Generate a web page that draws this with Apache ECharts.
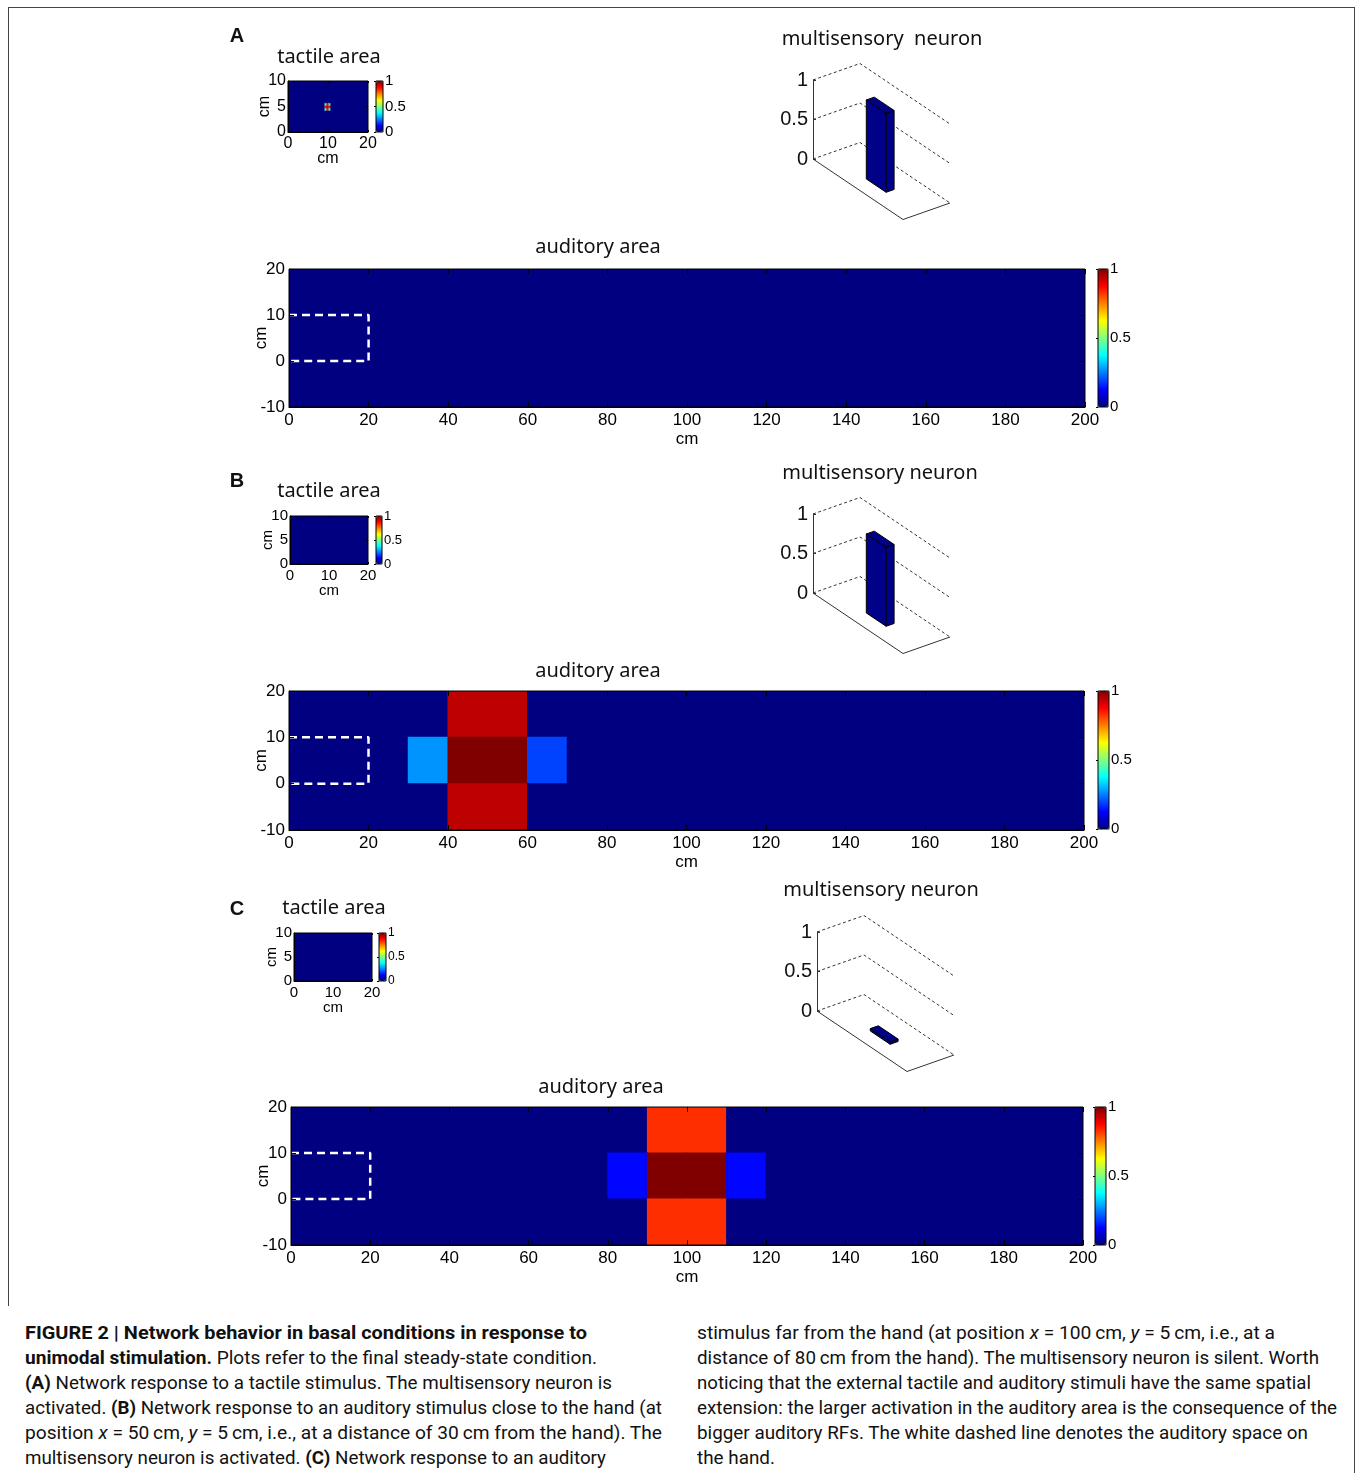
<!DOCTYPE html>
<html><head><meta charset="utf-8"><title>Figure 2</title>
<script src="https://cdn.jsdelivr.net/npm/echarts@6/dist/echarts.min.js"></script>
<style>
body{margin:0;background:#fff;width:1355px;height:1473px;overflow:hidden;}
#chart{position:absolute;left:0;top:0;width:1355px;height:1310px;}
#frame{position:absolute;left:8px;top:7px;width:1345px;height:1298px;border:1px solid #444;border-bottom:none;}
#frame2{position:absolute;left:1354px;top:1305px;height:170px;border-left:1px solid #444;}
.cap{position:absolute;font-family:'Liberation Sans Narrow','Roboto','Liberation Sans',sans-serif;font-size:18px;line-height:25px;color:#111;}
.cap div{white-space:nowrap;transform-origin:0 50%;width:max-content;}
</style></head>
<body>
<div id="frame"></div><div id="frame2"></div>
<div id="chart"></div>
<div class="cap" style="left:25px;top:1320px">
<div data-w="562"><b>FIGURE 2 | Network behavior in basal conditions in response to</b></div>
<div data-w="572"><b>unimodal stimulation.</b> Plots refer to the final steady-state condition.</div>
<div data-w="587"><b>(A)</b> Network response to a tactile stimulus. The multisensory neuron is</div>
<div data-w="637">activated. <b>(B)</b> Network response to an auditory stimulus close to the hand (at</div>
<div data-w="637">position <i>x</i> = 50&#8201;cm, <i>y</i> = 5&#8201;cm, i.e., at a distance of 30&#8201;cm from the hand). The</div>
<div data-w="581">multisensory neuron is activated. <b>(C)</b> Network response to an auditory</div>
</div>
<div class="cap" style="left:697px;top:1320px">
<div data-w="578">stimulus far from the hand (at position <i>x</i> = 100&#8201;cm, <i>y</i> = 5&#8201;cm, i.e., at a</div>
<div data-w="622">distance of 80&#8201;cm from the hand). The multisensory neuron is silent. Worth</div>
<div data-w="614">noticing that the external tactile and auditory stimuli have the same spatial</div>
<div data-w="640">extension: the larger activation in the auditory area is the consequence of the</div>
<div data-w="611">bigger auditory RFs. The white dashed line denotes the auditory space on</div>
<div data-w="78">the hand.</div>
</div>
<script>
// ================= DATA =================
const panelLetters = ['A', 'B', 'C'];
const tactileTitles = ['tactile area', 'tactile area', 'tactile area'];
const neuronTitles = ['multisensory  neuron', 'multisensory neuron', 'multisensory neuron'];
const auditoryTitles = ['auditory area', 'auditory area', 'auditory area'];
const unitLabel = 'cm';

// tactile area (0.5 cm grid); ticks
const tactileXTicks = [0, 10, 20];
const tactileYTicks = [0, 5, 10];
const tactileStep = 0.5;
// stimulated tactile cells [x, y, activation]; every other cell is 0
const tactileStimA = [
  [9.5, 5.5, 0.40], [10, 5.5, 0.86], [10.5, 5.5, 0.40],
  [9.5, 5.0, 0.86], [10, 5.0, 0.92], [10.5, 5.0, 0.86],
  [9.5, 4.5, 0.40], [10, 4.5, 0.86], [10.5, 4.5, 0.40]
];
const tactileStimB = [];
const tactileStimC = [];

// auditory area (10 cm cells); ticks
const auditoryXTicks = [0, 20, 40, 60, 80, 100, 120, 140, 160, 180, 200];
const auditoryYTicks = [-10, 0, 10, 20];
const auditoryStep = 10;
// rows from top: y in [10,20], [0,10], [-10,0]; columns: x in [0,10] ... [190,200]
const auditoryA = [
  [0,0,0,0,0,0,0,0,0,0,0,0,0,0,0,0,0,0,0,0],
  [0,0,0,0,0,0,0,0,0,0,0,0,0,0,0,0,0,0,0,0],
  [0,0,0,0,0,0,0,0,0,0,0,0,0,0,0,0,0,0,0,0]
];
const auditoryB = [
  [0,0,0,0,0.94,0.94,0,0,0,0,0,0,0,0,0,0,0,0,0,0],
  [0,0,0,0.27,1.0,1.0,0.19,0,0,0,0,0,0,0,0,0,0,0,0,0],
  [0,0,0,0,0.94,0.94,0,0,0,0,0,0,0,0,0,0,0,0,0,0]
];
const auditoryC = [
  [0,0,0,0,0,0,0,0,0,0.83,0.83,0,0,0,0,0,0,0,0,0],
  [0,0,0,0,0,0,0,0,0.13,1.0,1.0,0.13,0,0,0,0,0,0,0,0],
  [0,0,0,0,0,0,0,0,0,0.83,0.83,0,0,0,0,0,0,0,0,0]
];
// auditory space on the hand (white dashed outline), in cm
const handSpace = [[0, 10], [20, 10], [20, 0], [0, 0]];

const colorbarTicks = [0, 0.5, 1];
const neuronTicks = [0, 0.5, 1];
const neuronActivation = [1.0, 1.0, 0.03];

const tactileStims = [tactileStimA, tactileStimB, tactileStimC];
const auditoryMaps = [auditoryA, auditoryB, auditoryC];

// ================= STYLE / LAYOUT =================
const jet = ['#000080','#0000ff','#0080ff','#00ffff','#80ff80','#ffff00','#ff8000','#ff0000','#800000'];
const NUM_FONT = 'Liberation Sans, Arial, sans-serif';
const TITLE_FONT = 'Noto Sans, Open Sans, sans-serif';
const LAYOUT = [
  { letter:[237,36], tTitle:[329,57], nTitle:[882,39], aTitle:[598,247],
    tactile:{x:288,y:81,w:80,h:51}, tBar:{x:376,y:81,w:7,h:51}, tBarFont:15, tFont:16,
    neuron:{x:813,y1:80,y0:159}, auditory:{x:289,y:269,w:796,h:138}, aBar:{x:1098,y:269,w:10,h:138} },
  { letter:[237,481], tTitle:[329,491], nTitle:[880,473], aTitle:[598,671],
    tactile:{x:290,y:516,w:78,h:48}, tBar:{x:376,y:516,w:6,h:48}, tBarFont:13, tFont:15,
    neuron:{x:813,y1:514,y0:593}, auditory:{x:289,y:691,w:795,h:139}, aBar:{x:1098,y:691,w:11,h:138} },
  { letter:[237,909], tTitle:[334,908], nTitle:[881,890], aTitle:[601,1087],
    tactile:{x:294,y:933,w:78,h:48}, tBar:{x:379,y:933,w:7,h:48}, tBarFont:12, tFont:15,
    neuron:{x:817,y1:932,y0:1011}, auditory:{x:291,y:1107,w:792,h:138}, aBar:{x:1095,y:1107,w:11,h:138} }
];
const FLOOR_F = [90, 60.5];   // projection of the front-going floor direction
const FLOOR_B = [47, -16.5];  // projection of the back-going floor direction
const BAR_FOOT = {a0:0.42, a1:0.64, b0:0.33, b1:0.50};

// ================= BUILD =================
const option = {animation:false, backgroundColor:'transparent', grid:[], xAxis:[], yAxis:[], series:[], visualMap:[], graphic:[]};

function addGrid(r, extra){
  option.grid.push(Object.assign({left:r.x, top:r.y, width:r.w, height:r.h, show:false, containLabel:false}, extra||{}));
  return option.grid.length - 1;
}
function rng(t){ return {min:t[0], max:t[t.length-1], interval:t[1]-t[0]}; }

function heatAxes(gi, xt, yt, o){
  const blk = {color:'#000', width:1};
  const lab = (m, fs) => ({fontSize:fs, margin:m, color:'#000', fontFamily:NUM_FONT, showMinLabel:true, showMaxLabel:true});
  option.xAxis.push(Object.assign({gridIndex:gi, type:'value', position:'bottom', z:10, splitLine:{show:false},
    axisLine:{show:true, onZero:false, lineStyle:blk}, axisTick:{inside:true, length:o.tick, lineStyle:blk},
    axisLabel:lab(o.xm, o.font), name:unitLabel, nameLocation:'middle', nameGap:o.xg, nameMoveOverlap:false,
    nameTextStyle:{fontSize:o.nameFont, color:'#000', fontFamily:NUM_FONT}}, rng(xt)));
  const xi = option.xAxis.length - 1;
  option.xAxis.push(Object.assign({gridIndex:gi, type:'value', position:'top', z:10, splitLine:{show:false},
    axisLine:{show:false, onZero:false}, axisTick:{inside:true, length:o.tick, lineStyle:blk}, axisLabel:{show:false}}, rng(xt)));
  option.yAxis.push(Object.assign({gridIndex:gi, type:'value', position:'left', z:10, splitLine:{show:false},
    axisLine:{show:true, onZero:false, lineStyle:blk}, axisTick:{inside:true, length:o.tick, lineStyle:blk},
    axisLabel:lab(o.ym, o.font), name:unitLabel, nameLocation:'middle', nameGap:o.yg, nameMoveOverlap:false,
    nameTextStyle:{fontSize:o.nameFont, color:'#000', fontFamily:NUM_FONT}}, rng(yt)));
  const yi = option.yAxis.length - 1;
  option.yAxis.push(Object.assign({gridIndex:gi, type:'value', position:'right', z:10, splitLine:{show:false},
    axisLine:{show:false, onZero:false}, axisTick:{inside:true, length:o.tick, lineStyle:blk}, axisLabel:{show:false}}, rng(yt)));
  return {xi, yi};
}

function colorbar(r, fs, seriesIdx){
  const gi = addGrid(r, {show:true, borderColor:'#000', borderWidth:1, backgroundColor:'transparent', z:10});
  option.xAxis.push({gridIndex:gi, type:'value', min:0, max:1, show:false});
  option.yAxis.push(Object.assign({gridIndex:gi, type:'value', position:'right', z:10, splitLine:{show:false},
    axisLine:{show:false}, axisTick:{show:true, inside:true, length:2, lineStyle:{color:'#000'}},
    axisLabel:{fontSize:fs, margin:2, color:'#000', fontFamily:NUM_FONT, showMinLabel:true, showMaxLabel:true}}, rng(colorbarTicks)));
  option.visualMap.push({type:'continuous', min:colorbarTicks[0], max:colorbarTicks[colorbarTicks.length-1],
    dimension:2, seriesIndex:seriesIdx, inRange:{color:jet}, calculable:false, hoverLink:false,
    left:r.x, top:r.y, itemWidth:r.w, itemHeight:r.h, padding:0, text:null, show:true});
}

function cellRenderer(dx, dy){
  return function(params, api){
    const x = api.value(0), y = api.value(1);
    const p0 = api.coord([x - dx/2, y + dy/2]);
    const p1 = api.coord([x + dx/2, y - dy/2]);
    const cs = params.coordSys;
    const x0 = Math.max(p0[0] - 0.5, cs.x), x1 = Math.min(p1[0] + 0.5, cs.x + cs.width);
    const y0 = Math.max(p0[1] - 0.5, cs.y), y1 = Math.min(p1[1] + 0.5, cs.y + cs.height);
    const c = api.visual('color');
    return {type:'rect', shape:{x:x0, y:y0, width:x1-x0, height:y1-y0}, style:{fill:c}};
  };
}

function neuronRenderer(params, api){
  const v = api.value(1);
  const o = api.coord([0, 0]);
  const pt = (a, b, h) => {
    const yh = api.coord([0, h])[1] - o[1];
    return [o[0] + a*FLOOR_F[0] + b*FLOOR_B[0], o[1] + a*FLOOR_F[1] + b*FLOOR_B[1] + yh];
  };
  const ch = [];
  neuronTicks.forEach(t => ch.push({type:'polyline', shape:{points:[pt(0,0,t), pt(0,1,t), pt(1,1,t)]},
    style:{stroke:'#333', lineWidth:1, lineDash:[3,2.5], fill:null}}));
  ch.push({type:'polyline', shape:{points:[pt(0,0,0), pt(1,0,0), pt(1,1,0)]}, style:{stroke:'#333', lineWidth:1, fill:null}});
  const {a0, a1, b0, b1} = BAR_FOOT;
  const fs = {fill:'#000088', stroke:'#000', lineWidth:1};
  ch.push({type:'polygon', shape:{points:[pt(a0,b0,0), pt(a1,b0,0), pt(a1,b0,v), pt(a0,b0,v)]}, style:fs});
  ch.push({type:'polygon', shape:{points:[pt(a1,b0,0), pt(a1,b1,0), pt(a1,b1,v), pt(a1,b0,v)]}, style:fs});
  ch.push({type:'polygon', shape:{points:[pt(a0,b0,v), pt(a1,b0,v), pt(a1,b1,v), pt(a0,b1,v)]}, style:fs});
  return {type:'group', children:ch};
}

function text(x, y, t, fs, bold, font){
  option.graphic.push({type:'text', x, y, z:100, style:{text:t, fontSize:fs, fontWeight:bold?'bold':'normal',
    fontFamily:font, fill:'#111', align:'center', verticalAlign:'middle'}});
}

LAYOUT.forEach((L, p) => {
  // texts
  text(L.letter[0], L.letter[1], panelLetters[p], 20, true, NUM_FONT);
  text(L.tTitle[0], L.tTitle[1], tactileTitles[p], 20, false, TITLE_FONT);
  text(L.nTitle[0], L.nTitle[1], neuronTitles[p], 20, false, TITLE_FONT);
  text(L.aTitle[0], L.aTitle[1], auditoryTitles[p], 20, false, TITLE_FONT);

  // ---- tactile heatmap
  const tg = addGrid(L.tactile, {show:true, borderColor:'#000', borderWidth:1, backgroundColor:'transparent', z:10});
  const ta = heatAxes(tg, tactileXTicks, tactileYTicks, {tick:2, font:L.tFont, xm:4, ym:2, xg:19, yg:15, nameFont:L.tFont});
  const tdata = [];
  const nx = Math.round((tactileXTicks[tactileXTicks.length-1] - tactileXTicks[0]) / tactileStep);
  const ny = Math.round((tactileYTicks[tactileYTicks.length-1] - tactileYTicks[0]) / tactileStep);
  for (let i = 0; i <= nx; i++) for (let j = 0; j <= ny; j++) {
    const x = tactileXTicks[0] + i*tactileStep, y = tactileYTicks[0] + j*tactileStep;
    const hit = tactileStims[p].find(s => s[0] === x && s[1] === y);
    tdata.push([x, y, hit ? hit[2] : 0]);
  }
  option.series.push({type:'custom', xAxisIndex:ta.xi, yAxisIndex:ta.yi, data:tdata, encode:{x:0, y:1},
    renderItem:cellRenderer(tactileStep, tactileStep), silent:true, z:2});
  const tsi = option.series.length - 1;
  colorbar(L.tBar, L.tBarFont, tsi);

  // ---- neuron 3D bar
  const ng = addGrid({x:L.neuron.x, y:L.neuron.y1, w:150, h:L.neuron.y0 - L.neuron.y1});
  option.xAxis.push({gridIndex:ng, type:'value', min:0, max:1, show:false});
  const nxi = option.xAxis.length - 1;
  option.yAxis.push(Object.assign({gridIndex:ng, type:'value', position:'left', z:10, splitLine:{show:false},
    axisLine:{show:true, onZero:false, lineStyle:{color:'#333'}}, axisTick:{inside:true, length:3, lineStyle:{color:'#333'}},
    axisLabel:{fontSize:20, margin:5, color:'#111', fontFamily:NUM_FONT, showMinLabel:true, showMaxLabel:true}}, rng(neuronTicks)));
  const nyi = option.yAxis.length - 1;
  option.series.push({type:'custom', xAxisIndex:nxi, yAxisIndex:nyi, data:[[0, neuronActivation[p]]], encode:{x:0, y:1},
    renderItem:neuronRenderer, silent:true, z:3});

  // ---- auditory heatmap
  const ag = addGrid(L.auditory, {show:true, borderColor:'#000', borderWidth:1, backgroundColor:'transparent', z:10});
  const aa = heatAxes(ag, auditoryXTicks, auditoryYTicks, {tick:5, font:17, xm:5, ym:4, xg:24, yg:19, nameFont:17});
  const adata = [];
  const top = auditoryYTicks[auditoryYTicks.length-1];
  auditoryMaps[p].forEach((row, r) => row.forEach((v, c) => {
    adata.push([auditoryXTicks[0] + (c + 0.5)*auditoryStep, top - (r + 0.5)*auditoryStep, v]);
  }));
  option.series.push({type:'custom', xAxisIndex:aa.xi, yAxisIndex:aa.yi, data:adata, encode:{x:0, y:1},
    renderItem:cellRenderer(auditoryStep, auditoryStep), silent:true, z:2});
  const asi = option.series.length - 1;
  option.series.push({type:'line', xAxisIndex:aa.xi, yAxisIndex:aa.yi, data:handSpace, symbol:'none', silent:true, z:5,
    lineStyle:{color:'#fff', width:2.5, type:[8,5]}});
  colorbar(L.aBar, 15, asi);
});

const chart = echarts.init(document.getElementById('chart'), null, {renderer:'canvas'});
chart.setOption(option);

// caption line fitting
function fitCaption(){
  document.querySelectorAll('.cap div[data-w]').forEach(d => {
    d.style.transform = 'none';
    const w = d.getBoundingClientRect().width;
    const target = +d.getAttribute('data-w');
    if (w > 0) d.style.transform = 'scaleX(' + (target / w) + ')';
  });
}
fitCaption();
if (document.fonts && document.fonts.ready) document.fonts.ready.then(fitCaption);
</script>
</body></html>
